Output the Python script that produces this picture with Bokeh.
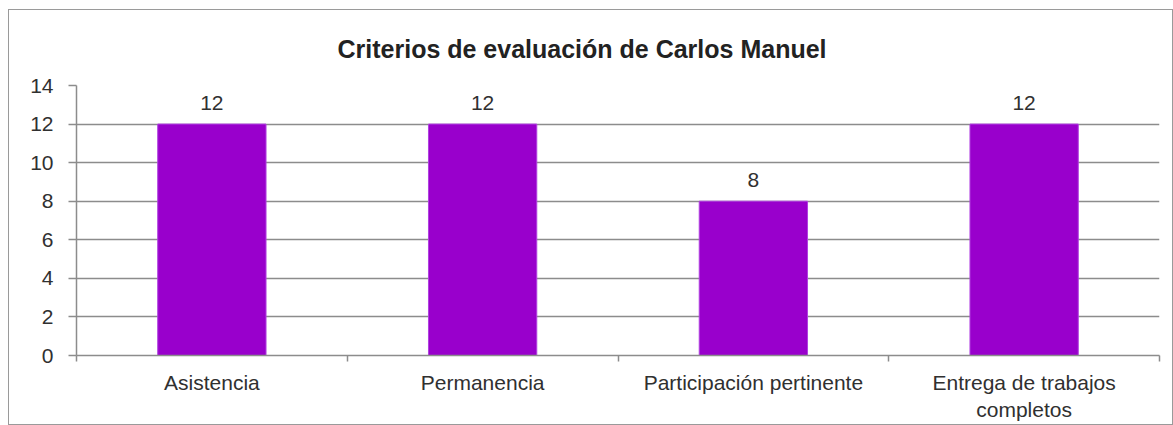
from bokeh.plotting import figure
from bokeh.models import ColumnDataSource, FixedTicker, LabelSet, Range1d
from bokeh.core.properties import value
from bokeh.embed import file_html
from bokeh.resources import INLINE

title_text = "Criterios de evaluación de Carlos Manuel"
categories = ["Asistencia", "Permanencia", "Participación pertinente",
              "Entrega de trabajos\ncompletos"]
values = [12, 12, 8, 12]
y_ticks = [0, 2, 4, 6, 8, 10, 12, 14]

positions = [i + 0.5 for i in range(len(categories))]
boundaries = list(range(len(categories) + 1))

src = ColumnDataSource(dict(x=positions, v=values, label=[str(v) for v in values]))

FONT = "Liberation Sans"
GRID = "#8c8c8c"
TXT = "#303030"

p = figure(width=1165, height=416, output_backend="svg", toolbar_location=None,
           x_range=Range1d(0, len(categories)), y_range=Range1d(0, 14),
           min_border_left=67, min_border_right=15, min_border_top=73, min_border_bottom=71)
p.styles = {"border": "1px solid #9a9a9a", "box-sizing": "border-box",
            "margin-left": "8px", "margin-top": "9px"}
p.outline_line_color = None
p.background_fill_color = "white"
p.border_fill_color = "white"

p.title.text = title_text
p.title.align = "left"
p.title.offset = 261
p.title.standoff = 45
p.title.text_font = FONT
p.title.text_font_size = "25px"
p.title.text_font_style = "bold"
p.title.text_color = "#222222"

p.vbar(x="x", top="v", width=0.4, source=src, fill_color="#9900CC",
       line_color="#b040e0", line_width=1)

labels = LabelSet(x="x", y="v", text="label", source=src, y_offset=14,
                  text_align="center", text_baseline="bottom",
                  text_font=value(FONT), text_font_size=value("21px"), text_color=TXT)
p.add_layout(labels)

# y axis
p.yaxis.ticker = FixedTicker(ticks=y_ticks, minor_ticks=[])
p.yaxis.major_tick_in = 0
p.yaxis.major_tick_out = 8
p.yaxis.major_tick_line_color = GRID
p.yaxis.major_tick_line_width = 1.5
p.yaxis.axis_line_color = GRID
p.yaxis.axis_line_width = 1.5
p.yaxis.major_label_standoff = 15
p.yaxis.major_label_text_font = FONT
p.yaxis.major_label_text_font_size = "21px"
p.yaxis.major_label_text_color = TXT

# x axis
p.xaxis.ticker = FixedTicker(ticks=positions, minor_ticks=boundaries)
p.xaxis.major_label_overrides = {pos: c for pos, c in zip(positions, categories)}
p.xaxis.major_tick_in = 0
p.xaxis.major_tick_out = 0
p.xaxis.minor_tick_in = 0
p.xaxis.minor_tick_out = 6
p.xaxis.minor_tick_line_color = GRID
p.xaxis.minor_tick_line_width = 1.5
p.xaxis.axis_line_color = GRID
p.xaxis.axis_line_width = 1.5
p.xaxis.major_label_standoff = 9
p.xaxis.major_label_text_font = FONT
p.xaxis.major_label_text_font_size = "21px"
p.xaxis.major_label_text_color = TXT

p.xgrid.visible = False
p.ygrid.ticker = FixedTicker(ticks=y_ticks)
p.ygrid.grid_line_color = GRID
p.ygrid.grid_line_width = 1.5

open("out.html", "w").write(file_html(p, INLINE))
